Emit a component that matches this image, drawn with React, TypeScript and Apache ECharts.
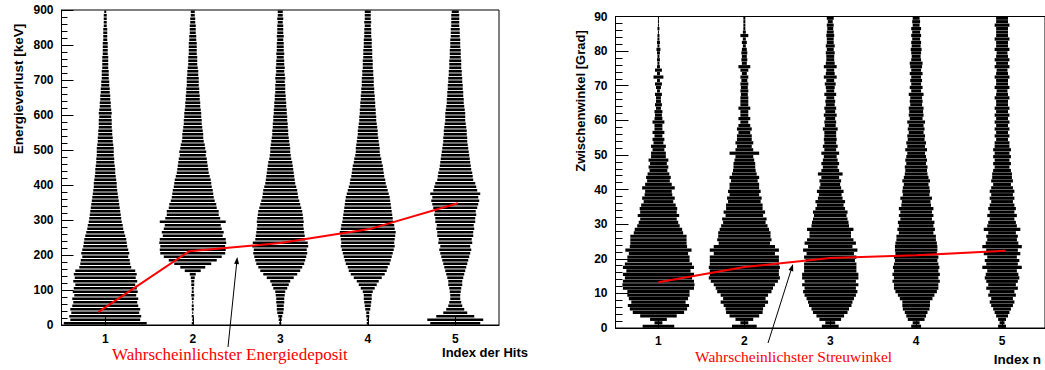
import React, { useEffect, useRef } from "react";
import * as echarts from "echarts";

const hitIndex = ["1", "2", "3", "4", "5"];
const energyBinKeV = 10;
const angleBinDeg = 1;

// bin contents (display width units) per 10 keV bin, 0..900 keV
const energyHit1 = [
  83, 70, 72, 68, 70, 66, 64, 66, 62, 65,
  63, 60, 64, 61, 63, 60, 52, 50, 49, 46,
  48, 46, 44, 43, 42, 40, 38, 36, 35, 33,
  32, 31, 30, 29, 28, 27, 26, 25, 24, 23,
  23, 22, 21, 20, 20, 19, 18, 18, 17, 17,
  17, 16, 15, 15, 14, 14, 13, 13, 13, 12,
  13, 12, 11, 11, 10, 10, 9, 9, 8, 8,
  7, 7, 7, 6, 6, 6, 6, 5, 5, 5,
  5, 4, 4, 4, 4, 3, 3, 3, 3, 2,
];
const energyHit2 = [
  2, 1, 2, 1, 2, 2, 1, 2, 3, 2,
  2, 3, 3, 4, 6, 16, 25, 37, 48, 58,
  65, 66, 65, 67, 66, 60, 62, 58, 56, 66,
  55, 52, 52, 48, 47, 44, 42, 41, 40, 38,
  37, 36, 34, 32, 31, 30, 29, 28, 26, 27,
  25, 24, 22, 21, 21, 20, 19, 18, 18, 17,
  17, 16, 15, 15, 14, 14, 13, 13, 12, 12,
  12, 11, 11, 10, 9, 9, 9, 8, 8, 8,
  8, 7, 7, 6, 6, 6, 5, 5, 4, 4,
];
const energyHit3 = [
  2, 3, 4, 6, 7, 7, 8, 8, 9, 10,
  14, 17, 20, 27, 34, 40, 44, 48, 50, 52,
  54, 53, 56, 55, 50, 49, 48, 47, 46, 47,
  46, 45, 44, 42, 40, 38, 36, 35, 34, 32,
  30, 29, 28, 27, 26, 25, 24, 22, 21, 20,
  20, 19, 18, 17, 16, 16, 15, 15, 14, 14,
  13, 13, 12, 12, 11, 11, 10, 10, 10, 9,
  10, 9, 8, 9, 8, 8, 7, 8, 7, 7,
  7, 6, 7, 6, 6, 6, 5, 6, 5, 5,
];
const energyHit4 = [
  2, 2, 3, 3, 5, 6, 7, 8, 8, 10,
  14, 18, 22, 28, 34, 38, 40, 44, 46, 48,
  50, 52, 54, 53, 54, 55, 56, 54, 53, 51,
  50, 49, 48, 47, 46, 45, 44, 42, 40, 38,
  36, 35, 33, 32, 31, 30, 28, 27, 25, 24,
  24, 23, 22, 21, 20, 20, 19, 18, 17, 17,
  16, 16, 15, 15, 14, 14, 13, 13, 12, 12,
  12, 11, 11, 10, 10, 10, 9, 9, 9, 8,
  8, 8, 7, 7, 7, 6, 7, 6, 6, 6,
];
const energyHit5 = [
  50, 56, 38, 24, 18, 14, 12, 10, 10, 11,
  12, 14, 14, 16, 18, 20, 22, 24, 26, 28,
  30, 32, 30, 34, 33, 36, 36, 38, 37, 40,
  40, 42, 41, 44, 46, 48, 46, 50, 44, 42,
  40, 36, 35, 34, 32, 31, 30, 29, 28, 27,
  26, 25, 24, 24, 23, 23, 22, 21, 20, 20,
  20, 19, 18, 17, 17, 16, 16, 15, 15, 14,
  14, 13, 13, 12, 12, 12, 11, 11, 11, 10,
  10, 10, 9, 9, 9, 8, 8, 8, 8, 7,
];

// bin contents per 1 degree bin, 0..90 deg
const angleHit1 = [
  32, 8, 17, 37, 52, 58, 62, 55, 60, 63,
  63, 72, 73, 72, 68, 72, 65, 72, 68, 63,
  63, 60, 67, 58, 57, 57, 57, 50, 48, 43,
  40, 37, 42, 37, 38, 35, 30, 33, 28, 27,
  33, 27, 23, 25, 22, 18, 20, 17, 20, 15,
  15, 12, 15, 10, 12, 8, 12, 8, 8, 12,
  8, 7, 8, 5, 7, 5, 5, 7, 3, 5,
  7, 3, 10, 3, 7, 3, 2, 3, 2, 3,
  4, 2, 3, 2, 2, 1, 2, 1, 1, 1,
];
const angleHit2 = [
  25, 8, 18, 30, 37, 38, 42, 48, 43, 48,
  55, 58, 62, 68, 72, 70, 70, 72, 70, 70,
  70, 62, 70, 62, 52, 55, 53, 53, 50, 47,
  43, 45, 38, 42, 37, 37, 33, 35, 30, 33,
  30, 30, 27, 30, 25, 23, 22, 22, 20, 18,
  30, 18, 15, 18, 15, 15, 12, 15, 12, 8,
  12, 8, 8, 12, 8, 8, 8, 7, 8, 7,
  8, 6, 8, 5, 8, 12, 5, 6, 5, 6,
  5, 3, 5, 3, 8, 3, 2, 2, 2, 2,
];
const angleHit3 = [
  17, 10, 22, 28, 35, 38, 43, 45, 48, 52,
  55, 52, 57, 52, 57, 57, 53, 53, 53, 50,
  53, 48, 55, 45, 52, 47, 42, 42, 47, 38,
  37, 35, 33, 35, 30, 27, 30, 25, 23, 27,
  22, 20, 22, 18, 25, 18, 15, 18, 15, 13,
  18, 12, 15, 12, 13, 12, 12, 15, 11, 12,
  10, 13, 10, 12, 9, 10, 8, 12, 8, 9,
  11, 8, 13, 9, 8, 13, 9, 8, 8, 9,
  7, 9, 7, 7, 8, 7, 6, 7, 5, 7,
];
const angleHit4 = [
  10, 7, 17, 20, 23, 27, 28, 28, 33, 37,
  42, 45, 45, 48, 45, 48, 45, 47, 45, 43,
  45, 42, 43, 43, 42, 40, 40, 35, 38, 35,
  37, 32, 35, 32, 35, 30, 29, 32, 27, 28,
  27, 25, 28, 25, 23, 22, 23, 20, 22, 20,
  18, 22, 18, 20, 17, 18, 15, 17, 15, 18,
  13, 15, 14, 15, 12, 13, 12, 15, 10, 13,
  10, 12, 10, 13, 10, 12, 13, 10, 9, 10,
  11, 9, 10, 8, 10, 8, 10, 7, 8, 7,
];
const angleHit5 = [
  8, 5, 8, 12, 15, 18, 22, 25, 22, 28,
  25, 32, 28, 32, 35, 33, 30, 40, 32, 35,
  30, 37, 32, 40, 33, 30, 32, 28, 37, 30,
  28, 25, 30, 25, 28, 25, 22, 25, 22, 25,
  22, 18, 22, 20, 20, 18, 15, 18, 15, 18,
  15, 18, 15, 15, 12, 15, 12, 15, 12, 15,
  12, 15, 12, 15, 12, 12, 15, 12, 11, 15,
  12, 12, 15, 12, 11, 15, 12, 15, 12, 11,
  15, 12, 12, 15, 12, 12, 12, 15, 12, 12,
];

// most probable values
const mpvEnergyX = [0.92, 1.96, 3.0, 4.02, 5.03];
const mpvEnergyKeV = [37, 211, 234, 274, 348];
const mpvAngleX = [1.0, 2.0, 3.0, 4.0, 5.04];
const mpvAngleDeg = [13.2, 17.6, 20.2, 21.0, 22.3];

const energyProfiles = [energyHit1, energyHit2, energyHit3, energyHit4, energyHit5];
const angleProfiles = [angleHit1, angleHit2, angleHit3, angleHit4, angleHit5];

const SANS = '"Liberation Sans", Arial, Helvetica, sans-serif';
const SERIF = '"Liberation Serif", "Times New Roman", serif';

function buildCells(profiles: number[][], bin: number) {
  const out: number[][] = [];
  profiles.forEach((arr, c) => {
    arr.forEach((n, i) => {
      if (n > 0) out.push([c, bin * (i + 0.5), n]);
    });
  });
  return out;
}

function violinRender(countsPerBand: number, bin: number, fill: number) {
  return (_params: any, api: any) => {
    const c = api.coord([api.value(0), api.value(1)]);
    const band = api.size([1, 0])[0];
    const binH = api.size([0, bin])[1];
    const w = (api.value(2) / countsPerBand) * band;
    const h = binH * fill;
    return {
      type: "rect",
      shape: { x: c[0] - w / 2, y: c[1] - h / 2, width: w, height: h },
      style: { fill: "#000" },
    };
  };
}

function arrow(x1: number, y1: number, x2: number, y2: number) {
  const dx = x2 - x1;
  const dy = y2 - y1;
  const L = Math.sqrt(dx * dx + dy * dy);
  const ux = dx / L;
  const uy = dy / L;
  const px = -uy;
  const py = ux;
  const hl = 7;
  const hw = 2.5;
  const bx = x2 - ux * hl;
  const by = y2 - uy * hl;
  return [
    {
      type: "line",
      shape: { x1, y1, x2: bx, y2: by },
      style: { stroke: "#000", lineWidth: 1 },
    },
    {
      type: "polygon",
      shape: {
        points: [
          [x2, y2],
          [bx + px * hw, by + py * hw],
          [bx - px * hw, by - py * hw],
        ],
      },
      style: { fill: "#000" },
    },
  ];
}

function xAxisCfg(gridIndex: number, margin: number) {
  return {
    type: "category",
    gridIndex,
    data: hitIndex,
    boundaryGap: true,
    axisLine: { show: true, lineStyle: { color: "#000", width: 1 } },
    axisTick: { show: true, alignWithLabel: true, inside: true, length: 8, lineStyle: { color: "#000" } },
    axisLabel: { color: "#000", fontFamily: SANS, fontWeight: "bold", fontSize: 12, margin },
    splitLine: { show: false },
  };
}

function yAxisCfg(gridIndex: number, max: number, interval: number, major: number, minor: number) {
  return {
    type: "value",
    gridIndex,
    min: 0,
    max,
    interval,
    axisLine: { show: true, lineStyle: { color: "#000", width: 1 } },
    axisTick: { show: true, inside: true, length: major, lineStyle: { color: "#000" } },
    minorTick: { show: true, splitNumber: 5, length: minor, lineStyle: { color: "#000" } },
    axisLabel: { color: "#000", fontFamily: SANS, fontWeight: "bold", fontSize: 12, margin: 8 },
    splitLine: { show: false },
    minorSplitLine: { show: false },
  };
}

export default function App() {
  const ref = useRef<HTMLDivElement>(null);
  useEffect(() => {
    if (!ref.current) return;
    const chart = echarts.init(ref.current, undefined, { renderer: "svg" });
    const option: any = {
      animation: false,
      backgroundColor: "#fff",
      grid: [
        { left: 61.5, top: 10, width: 437.5, height: 315, show: true, borderColor: "#000", borderWidth: 1, backgroundColor: "transparent" },
        { left: 615.5, top: 16.5, width: 435, height: 311.5, show: true, borderColor: "#000", borderWidth: 1, backgroundColor: "transparent" },
      ],
      xAxis: [
        xAxisCfg(0, 8),
        xAxisCfg(1, 7),
        { type: "value", gridIndex: 0, min: 0.5, max: 5.5, show: false },
        { type: "value", gridIndex: 1, min: 0.5, max: 5.5, show: false },
      ],
      yAxis: [yAxisCfg(0, 900, 100, 12, 6), yAxisCfg(1, 90, 10, 13, 7)],
      series: [
        {
          type: "custom",
          xAxisIndex: 0,
          yAxisIndex: 0,
          renderItem: violinRender(87.6, energyBinKeV, 0.75),
          data: buildCells(energyProfiles, energyBinKeV),
          z: 2,
          silent: true,
        },
        {
          type: "custom",
          xAxisIndex: 1,
          yAxisIndex: 1,
          renderItem: violinRender(87, angleBinDeg, 0.92),
          data: buildCells(angleProfiles, angleBinDeg),
          z: 2,
          silent: true,
        },
        {
          type: "line",
          xAxisIndex: 2,
          yAxisIndex: 0,
          data: mpvEnergyX.map((x, i) => [x, mpvEnergyKeV[i]]),
          symbol: "none",
          lineStyle: { color: "#ff0000", width: 2 },
          z: 5,
          silent: true,
        },
        {
          type: "line",
          xAxisIndex: 3,
          yAxisIndex: 1,
          data: mpvAngleX.map((x, i) => [x, mpvAngleDeg[i]]),
          symbol: "none",
          lineStyle: { color: "#ff0000", width: 2 },
          z: 5,
          silent: true,
        },
      ],
      graphic: [
        {
          type: "text",
          x: 18,
          y: 89,
          rotation: Math.PI / 2,
          style: { text: "Energieverlust [keV]", fill: "#000", font: `bold 13.5px ${SANS}`, textAlign: "center", textVerticalAlign: "middle" },
        },
        {
          type: "text",
          x: 580,
          y: 101,
          rotation: Math.PI / 2,
          style: { text: "Zwischenwinkel [Grad]", fill: "#000", font: `bold 13px ${SANS}`, textAlign: "center", textVerticalAlign: "middle" },
        },
        {
          type: "text",
          x: 528,
          y: 352,
          style: { text: "Index der Hits", fill: "#000", font: `bold 13px ${SANS}`, textAlign: "right", textVerticalAlign: "middle" },
        },
        {
          type: "text",
          x: 1041,
          y: 359,
          style: { text: "Index n", fill: "#000", font: `bold 13.5px ${SANS}`, textAlign: "right", textVerticalAlign: "middle" },
        },
        {
          type: "text",
          x: 112,
          y: 354,
          style: { text: "Wahrscheinlichster Energiedeposit", fill: "#ff0000", font: `17px ${SERIF}`, textAlign: "left", textVerticalAlign: "middle" },
        },
        {
          type: "text",
          x: 695,
          y: 356,
          style: { text: "Wahrscheinlichster Streuwinkel", fill: "#ff0000", font: `15.5px ${SERIF}`, textAlign: "left", textVerticalAlign: "middle" },
        },
        ...arrow(228, 347, 237.3, 257),
        ...arrow(768, 343, 793, 264),
      ],
    };
    chart.setOption(option);
    return () => chart.dispose();
  }, []);
  return (
    <div
      ref={ref}
      style={{ position: "fixed", left: 0, top: 0, width: 1045, height: 370, background: "#fff" }}
    />
  );
}
